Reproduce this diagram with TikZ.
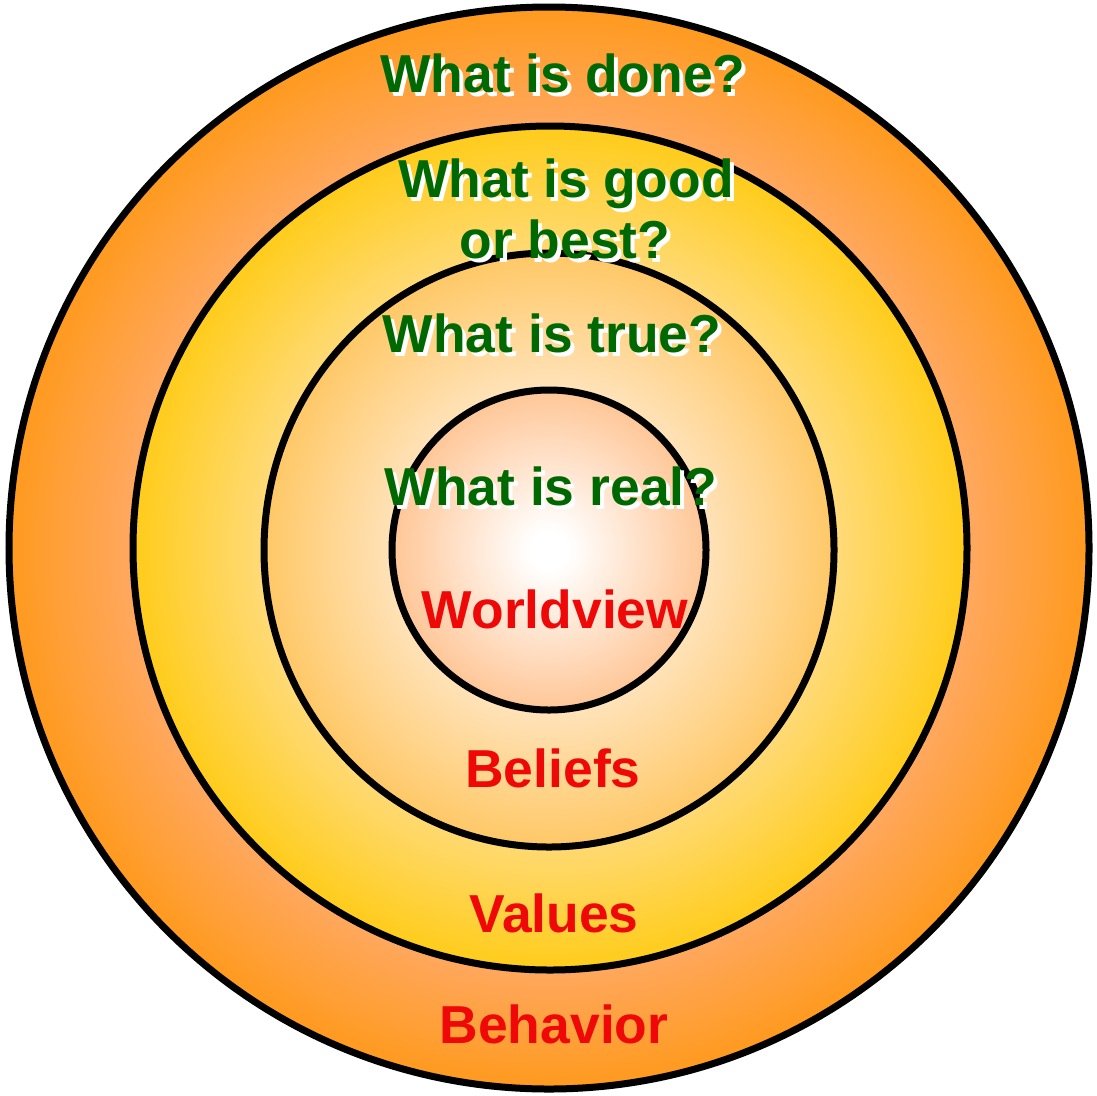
\documentclass[tikz,border=0pt]{standalone}
\usepackage{fontspec}
\setmainfont{Liberation Sans}
\usepackage{tikz}
\usetikzlibrary{positioning}

\definecolor{askgreen}{RGB}{0,104,0}
\definecolor{layerred}{RGB}{238,8,8}

\pgfdeclareradialshading{behaviorfill}{\pgfpointorigin}{color(0bp)=(rgb,255:red,255;green,205;blue,165); color(19.3bp)=(rgb,255:red,255;green,168;blue,96); color(25bp)=(rgb,255:red,255;green,154;blue,30); color(50bp)=(rgb,255:red,255;green,154;blue,30)}
\pgfdeclareradialshading{valuesfill}{\pgfpointorigin}{color(0bp)=(rgb,255:red,255;green,238;blue,190); color(17.2bp)=(rgb,255:red,255;green,218;blue,120); color(25bp)=(rgb,255:red,255;green,204;blue,26); color(50bp)=(rgb,255:red,255;green,204;blue,26)}
\pgfdeclareradialshading{beliefsfill}{\pgfpointorigin}{color(0bp)=(rgb,255:red,255;green,250;blue,240); color(13.8bp)=(rgb,255:red,255;green,226;blue,184); color(25bp)=(rgb,255:red,255;green,200;blue,102); color(50bp)=(rgb,255:red,255;green,200;blue,102)}
\pgfdeclareradialshading{worldfill}{\pgfpointorigin}{color(0bp)=(white); color(3bp)=(white); color(12.5bp)=(rgb,255:red,255;green,230;blue,210); color(25bp)=(rgb,255:red,255;green,198;blue,150); color(50bp)=(rgb,255:red,255;green,198;blue,150)}

\tikzset{
  ring/.style={draw=black,line width=1.75mm},
  lbl/.style={font=\fontsize{38}{44}\selectfont\bfseries,inner sep=0pt,anchor=base},
}
% green question with a white shadow behind it
\newcommand{\askline}[3]{%
  \node[lbl,text=white,shift={(4,4)}] (#1s) at (#2) {#3};
  \node[lbl,text=askgreen] (#1) at (#2) {#3};}

\begin{document}
\begin{tikzpicture}[x=0.25mm,y=-0.25mm]
	\useasboundingbox (0,0) rectangle (1097,1095);
	\shade[ring,shading=behaviorfill] (549,548) ellipse [x radius=540,y radius=541];
	\shade[ring,shading=valuesfill] (550,548) ellipse [x radius=417,y radius=422];
	\shade[ring,shading=beliefsfill] (549,550) ellipse [x radius=285,y radius=297];
	\shade[ring,shading=worldfill] (549,550) ellipse [x radius=157,y radius=160];
	
	\askline{done}{563,92}{What is done?}
	\askline{good}{566,197}{What is good}
	\askline{best}{565,258}{or best?}
	\askline{true}{552,352}{What is true?}
	\askline{real}{551,505}{What is real?}
	
	\node[lbl,text=layerred] (world) at (555,628) {Worldview};
	\node[lbl,text=layerred] (beliefs) at (553,787) {Beliefs};
	\node[lbl,text=layerred] (values) at (554,932) {Values};
	\node[lbl,text=layerred] (behavior) at (554,1043) {Behavior};
\end{tikzpicture}
\end{document}
